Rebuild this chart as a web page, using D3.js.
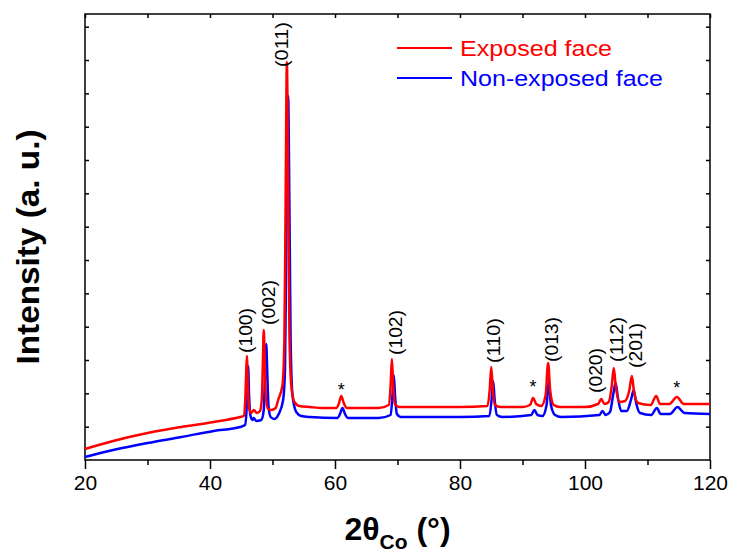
<!DOCTYPE html>
<html>
<head>
<meta charset="utf-8">
<script src="https://cdn.jsdelivr.net/npm/d3@7"></script>
<style>
  body { margin: 0; background: #fff; }
  text { font-family: "Liberation Sans", Arial, sans-serif; }
</style>
</head>
<body>
<div id="chart"></div>
<script>
// XRD patterns, [2theta, intensity (a.u.)]
var exposedFace = [
  [20, 0.33], [24.5, 0.57], [30, 0.81], [35.4, 0.99], [40.6, 1.14], [44.8, 1.29], [45.4, 1.32],
  [45.6, 1.65], [45.75, 2.4], [45.9, 3.12], [46.05, 2.25], [46.25, 1.56], [46.6, 1.41],
  [47.0, 1.5], [47.5, 1.41], [48.0, 1.47],
  [48.3, 1.86], [48.45, 2.85], [48.6, 3.9], [48.75, 3.0], [48.95, 1.86], [49.3, 1.53],
  [49.8, 1.5], [50.5, 1.56], [50.9, 1.8], [51.6, 2.25], [51.9, 3.6], [52.1, 7.8], [52.3, 11.94],
  [52.5, 8.4], [52.7, 3.9], [53.0, 2.25], [53.5, 1.74], [54.3, 1.62], [56, 1.59], [58, 1.56],
  [60.2, 1.56], [60.6, 1.68], [61.0, 1.92], [61.4, 1.71], [61.9, 1.56], [64, 1.56], [67, 1.56],
  [68.6, 1.65], [68.9, 2.25], [69.1, 3.03], [69.3, 2.25], [69.6, 1.68], [70.2, 1.59],
  [75, 1.59], [80, 1.59], [84.4, 1.62], [84.75, 2.1], [85.0, 2.79], [85.25, 2.1], [85.6, 1.65],
  [86.5, 1.59], [90, 1.59], [91.2, 1.65], [91.7, 1.86], [92.2, 1.68], [93.0, 1.62],
  [93.7, 1.95], [94.1, 2.91], [94.45, 2.04], [95.0, 1.65], [96, 1.59], [100, 1.59],
  [102.1, 1.68], [102.6, 1.83], [103.1, 1.68], [103.8, 1.74], [104.3, 2.25], [104.6, 2.76],
  [104.9, 2.25], [105.5, 1.74], [106.4, 1.77], [107.1, 2.1], [107.5, 2.52], [107.85, 2.04],
  [108.5, 1.71], [110.5, 1.65], [111.4, 1.92], [112.0, 1.68], [113.5, 1.68], [114.7, 1.89],
  [115.8, 1.68], [120, 1.68]
];

var nonExposedFace = [
  [20, 0.09], [24.5, 0.3], [30, 0.51], [35.4, 0.69], [40.6, 0.87], [44.8, 0.99], [45.6, 1.05],
  [45.85, 1.5], [45.95, 2.1], [46.1, 2.82], [46.25, 1.95], [46.45, 1.35], [46.8, 1.2],
  [47.0, 1.26], [47.4, 1.17], [48.2, 1.2],
  [48.6, 1.5], [48.8, 2.55], [49.0, 3.48], [49.15, 2.7], [49.35, 1.65], [49.7, 1.29],
  [50.3, 1.23], [51.0, 1.38], [51.7, 1.8], [52.0, 2.7], [52.2, 6.3], [52.5, 10.92], [52.7, 7.8],
  [52.9, 3.6], [53.2, 1.95], [53.8, 1.44], [54.6, 1.32], [56, 1.29], [60.4, 1.26],
  [60.8, 1.38], [61.2, 1.56], [61.6, 1.38], [62.1, 1.26], [67, 1.26],
  [68.9, 1.35], [69.2, 1.95], [69.4, 2.55], [69.6, 1.95], [69.9, 1.38], [70.5, 1.29],
  [80, 1.29], [84.7, 1.32], [85.05, 1.8], [85.3, 2.37], [85.55, 1.8], [85.9, 1.35], [86.8, 1.29],
  [91.4, 1.35], [91.9, 1.5], [92.4, 1.35], [93.2, 1.32], [93.85, 1.65], [94.2, 2.4],
  [94.55, 1.65], [95.2, 1.35], [96.2, 1.29], [102.3, 1.35], [102.8, 1.47], [103.3, 1.35],
  [104.0, 1.44], [104.5, 1.95], [104.9, 2.31], [105.25, 1.89], [105.8, 1.47], [106.7, 1.47],
  [107.35, 1.8], [107.8, 2.1], [108.15, 1.74], [108.8, 1.41], [110.6, 1.35], [111.5, 1.56],
  [112.1, 1.38], [113.6, 1.38], [114.8, 1.59], [115.9, 1.41], [120, 1.38]
];

// reflection labels: text, 2theta, intensity at the foot of the label
var peakLabels = ["(100)", "(002)", "(011)", "(102)", "(110)", "(013)", "(020)", "(112)", "(201)"];
var peakTheta = [45.6, 49.3, 51.5, 69.6, 85.3, 94.6, 101.6, 105.1, 108.0];
var peakLabelI = [3.21, 4.05, 11.79, 3.15, 2.91, 2.94, 2.01, 2.94, 2.76];

// unindexed peaks marked with *
var starTheta = [61.0, 91.7, 114.7];
var starI = [2.22, 2.31, 2.28];

var seriesNames = ["Exposed face", "Non-exposed face"];
var seriesColors = ["#ff0000", "#0000ff"];

var xMajorTicks = [20, 40, 60, 80, 100, 120];
var xMinorTicks = [30, 50, 70, 90, 110];

var margin = { top: 14, right: 22, bottom: 91, left: 85 };
var width = 732 - margin.left - margin.right;
var height = 551 - margin.top - margin.bottom;

var svg = d3.select("#chart").append("svg")
    .attr("width", 732)
    .attr("height", 551)
    .append("g")
    .attr("transform", "translate(" + margin.left + "," + margin.top + ")");

var x = d3.scaleLinear().domain([20, 120]).range([0, width]);
// one unlabelled y tick per unit
var y = d3.scaleLinear().domain([0, height / 33.333]).range([height, 0]);
var yTicks = d3.range(1, 14);

// axes
svg.append("g")
    .attr("class", "axis")
    .attr("transform", "translate(0," + height + ")")
    .call(d3.axisBottom(x).tickValues(xMajorTicks).tickSize(9).tickSizeOuter(0).tickPadding(6));

svg.append("g")
    .attr("class", "axis minor")
    .attr("transform", "translate(0," + height + ")")
    .call(d3.axisBottom(x).tickValues(xMinorTicks).tickSize(5).tickSizeOuter(0).tickFormat(""));

svg.append("g")
    .attr("class", "axis")
    .call(d3.axisTop(x).tickValues(xMajorTicks.concat(xMinorTicks)).tickSize(-4).tickSizeOuter(0).tickFormat(""));

svg.append("g")
    .attr("class", "axis")
    .call(d3.axisLeft(y).tickValues(yTicks).tickSize(-4).tickSizeOuter(0).tickFormat(""));

svg.append("g")
    .attr("class", "axis")
    .attr("transform", "translate(" + width + ",0)")
    .call(d3.axisRight(y).tickValues(yTicks).tickSize(-4).tickSizeOuter(0).tickFormat(""));

svg.selectAll(".axis .domain").remove();
svg.selectAll(".axis line").attr("stroke", "#000").attr("stroke-width", 1.5);
svg.selectAll(".axis text")
    .attr("fill", "#000")
    .style("font-size", "21px");

svg.append("rect")
    .attr("width", width)
    .attr("height", height)
    .attr("fill", "none")
    .attr("stroke", "#000")
    .attr("stroke-width", 1.5);

// curves
var line = d3.line()
    .curve(d3.curveMonotoneX)
    .x(function(d) { return x(d[0]); })
    .y(function(d) { return y(d[1]); });

svg.selectAll(".pattern")
    .data([exposedFace, nonExposedFace])
    .enter().append("path")
    .attr("class", "pattern")
    .attr("d", line)
    .attr("fill", "none")
    .attr("stroke", function(d, i) { return seriesColors[i]; })
    .attr("stroke-width", 2.5)
    .attr("stroke-linejoin", "round");

// draw exposed face on top
svg.selectAll(".pattern").filter(function(d, i) { return i === 0; }).raise();

// peak labels
svg.selectAll(".peak-label")
    .data(peakLabels)
    .enter().append("text")
    .attr("class", "peak-label")
    .attr("transform", function(d, i) {
        return "translate(" + (x(peakTheta[i]) + 6.5) + "," + y(peakLabelI[i]) + ") rotate(-90)";
    })
    .attr("textLength", 45)
    .attr("lengthAdjust", "spacingAndGlyphs")
    .style("font-size", "19px")
    .attr("fill", "#000")
    .text(function(d) { return d; });

svg.selectAll(".star")
    .data(starTheta)
    .enter().append("text")
    .attr("class", "star")
    .attr("x", function(d) { return x(d); })
    .attr("y", function(d, i) { return y(starI[i]) + 10; })
    .attr("text-anchor", "middle")
    .style("font-size", "18px")
    .text("*");

// legend
var legend = svg.append("g")
    .attr("transform", "translate(" + (397 - margin.left) + "," + (48 - margin.top) + ")");

seriesNames.forEach(function(name, i) {
    legend.append("line")
        .attr("x1", 0).attr("x2", 55)
        .attr("y1", i * 30).attr("y2", i * 30)
        .attr("stroke", seriesColors[i])
        .attr("stroke-width", 2);
    legend.append("text")
        .attr("x", 63)
        .attr("y", i * 30 + 8)
        .attr("fill", seriesColors[i])
        .attr("textLength", i === 0 ? 152 : 203)
        .attr("lengthAdjust", "spacingAndGlyphs")
        .style("font-size", "22px")
        .text(name);
});

// axis titles
var xTitle = svg.append("text")
    .attr("x", x(70))
    .attr("y", height + 80)
    .attr("text-anchor", "middle")
    .style("font-size", "32px")
    .style("font-weight", "bold");
xTitle.append("tspan").text("2θ");
xTitle.append("tspan").attr("dy", 9).style("font-size", "21px").text("Co");
xTitle.append("tspan").attr("dy", -9).text(" (°)");

svg.append("text")
    .attr("transform", "translate(" + (39 - margin.left) + "," + (247 - margin.top) + ") rotate(-90)")
    .attr("text-anchor", "middle")
    .attr("textLength", 235)
    .attr("lengthAdjust", "spacingAndGlyphs")
    .style("font-size", "31px")
    .style("font-weight", "bold")
    .text("Intensity (a. u.)");
</script>
</body>
</html>
